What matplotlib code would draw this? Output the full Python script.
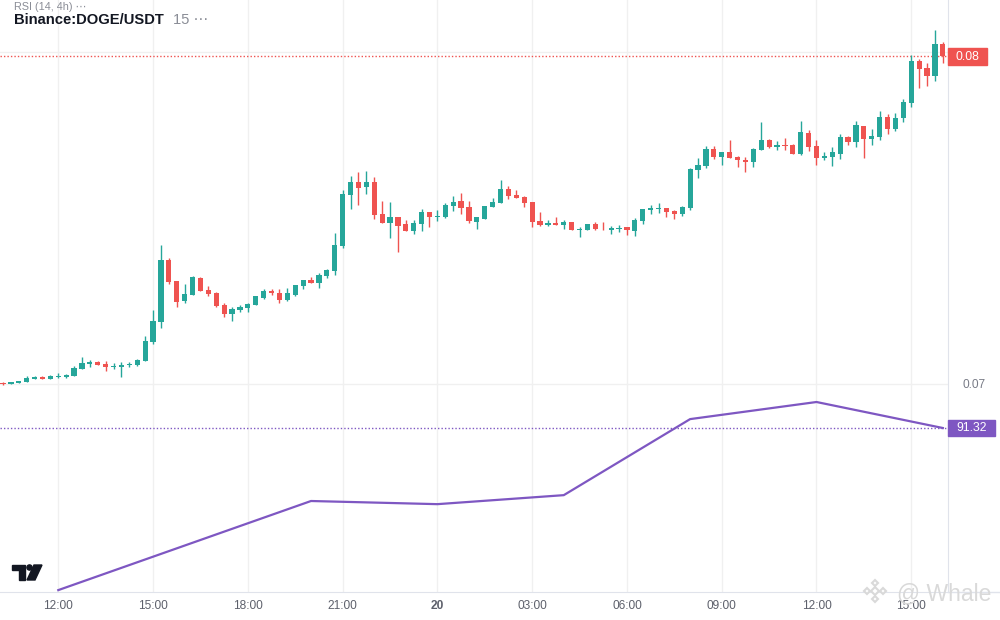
import numpy as np
import matplotlib.pyplot as plt
from matplotlib.patches import Rectangle, Polygon, Circle
from matplotlib.lines import Line2D
from matplotlib.transforms import Affine2D

plt.rcParams['font.family'] = ['Liberation Sans', 'DejaVu Sans']

# 15 min candles, 19th 10:15 -> 20th 16:00
opens = [0.07004, 0.07001, 0.07003, 0.07007, 0.07016, 0.07022, 0.07016, 0.07022, 0.07022, 0.07025,
         0.07046, 0.07060, 0.07066, 0.07060, 0.07052, 0.07052, 0.07058, 0.07057, 0.07070, 0.07128,
         0.07188, 0.07374, 0.07311, 0.07251, 0.07269, 0.07320, 0.07283, 0.07274, 0.07238, 0.07212,
         0.07224, 0.07230, 0.07239, 0.07260, 0.07280, 0.07274, 0.07254, 0.07269, 0.07296, 0.07314,
         0.07305, 0.07327, 0.07342, 0.07416, 0.07571, 0.07609, 0.07595, 0.07609, 0.07513, 0.07486,
         0.07504, 0.07482, 0.07462, 0.07483, 0.07519, 0.07504, 0.07504, 0.07537, 0.07552, 0.07534,
         0.07489, 0.07498, 0.07535, 0.07547, 0.07588, 0.07570, 0.07564, 0.07549, 0.07491, 0.07480,
         0.07486, 0.07480, 0.07489, 0.07465, 0.07465, 0.07483, 0.07468, 0.07465, 0.07468, 0.07474,
         0.07462, 0.07492, 0.07525, 0.07529, 0.07531, 0.07522, 0.07513, 0.07531, 0.07645, 0.07657,
         0.07709, 0.07684, 0.07699, 0.07684, 0.07675, 0.07669, 0.07705, 0.07736, 0.07715, 0.07721,
         0.07721, 0.07694, 0.07757, 0.07718, 0.07681, 0.07684, 0.07694, 0.07745, 0.07730, 0.07778,
         0.07739, 0.07745, 0.07805, 0.07769, 0.07802, 0.07848, 0.07974, 0.07953, 0.07929, 0.08025]
highs = [0.07007, 0.07007, 0.07010, 0.07025, 0.07025, 0.07025, 0.07028, 0.07033, 0.07031, 0.07054,
         0.07082, 0.07072, 0.07069, 0.07069, 0.07064, 0.07066, 0.07066, 0.07075, 0.07145, 0.07223,
         0.07419, 0.07380, 0.07311, 0.07302, 0.07326, 0.07323, 0.07295, 0.07278, 0.07244, 0.07232,
         0.07238, 0.07244, 0.07265, 0.07286, 0.07286, 0.07286, 0.07289, 0.07298, 0.07314, 0.07323,
         0.07335, 0.07347, 0.07455, 0.07585, 0.07627, 0.07639, 0.07642, 0.07624, 0.07552, 0.07549,
         0.07504, 0.07494, 0.07494, 0.07528, 0.07519, 0.07525, 0.07546, 0.07567, 0.07576, 0.07552,
         0.07504, 0.07537, 0.07562, 0.07615, 0.07597, 0.07585, 0.07567, 0.07549, 0.07519, 0.07494,
         0.07504, 0.07494, 0.07489, 0.07474, 0.07483, 0.07489, 0.07489, 0.07477, 0.07480, 0.07474,
         0.07500, 0.07528, 0.07540, 0.07546, 0.07531, 0.07525, 0.07537, 0.07651, 0.07681, 0.07718,
         0.07718, 0.07699, 0.07736, 0.07687, 0.07684, 0.07712, 0.07790, 0.07739, 0.07733, 0.07742,
         0.07724, 0.07793, 0.07766, 0.07736, 0.07699, 0.07715, 0.07754, 0.07748, 0.07793, 0.07778,
         0.07769, 0.07823, 0.07814, 0.07817, 0.07859, 0.07992, 0.07980, 0.07968, 0.08067, 0.08031]
lows = [0.06997, 0.07001, 0.07003, 0.07006, 0.07016, 0.07015, 0.07016, 0.07019, 0.07019, 0.07024,
        0.07045, 0.07052, 0.07056, 0.07040, 0.07046, 0.07022, 0.07052, 0.07054, 0.07070, 0.07122,
        0.07170, 0.07302, 0.07233, 0.07245, 0.07269, 0.07280, 0.07266, 0.07233, 0.07203, 0.07191,
        0.07218, 0.07218, 0.07239, 0.07257, 0.07269, 0.07245, 0.07251, 0.07266, 0.07287, 0.07305,
        0.07290, 0.07320, 0.07330, 0.07411, 0.07529, 0.07541, 0.07574, 0.07498, 0.07486, 0.07441,
        0.07399, 0.07462, 0.07453, 0.07462, 0.07474, 0.07492, 0.07501, 0.07523, 0.07513, 0.07486,
        0.07468, 0.07498, 0.07535, 0.07547, 0.07559, 0.07562, 0.07535, 0.07474, 0.07477, 0.07477,
        0.07480, 0.07468, 0.07465, 0.07444, 0.07465, 0.07465, 0.07465, 0.07453, 0.07459, 0.07450,
        0.07447, 0.07483, 0.07513, 0.07516, 0.07504, 0.07497, 0.07507, 0.07525, 0.07621, 0.07651,
        0.07678, 0.07660, 0.07681, 0.07654, 0.07639, 0.07654, 0.07705, 0.07712, 0.07705, 0.07705,
        0.07694, 0.07690, 0.07702, 0.07660, 0.07675, 0.07657, 0.07678, 0.07721, 0.07715, 0.07681,
        0.07721, 0.07736, 0.07754, 0.07763, 0.07790, 0.07836, 0.07893, 0.07899, 0.07914, 0.07968]
closes = [0.07001, 0.07006, 0.07009, 0.07018, 0.07022, 0.07016, 0.07025, 0.07024, 0.07027, 0.07048,
          0.07063, 0.07065, 0.07057, 0.07051, 0.07055, 0.07057, 0.07061, 0.07071, 0.07130, 0.07190,
          0.07374, 0.07308, 0.07248, 0.07271, 0.07323, 0.07281, 0.07272, 0.07236, 0.07212, 0.07226,
          0.07232, 0.07241, 0.07265, 0.07280, 0.07275, 0.07254, 0.07274, 0.07298, 0.07314, 0.07305,
          0.07329, 0.07344, 0.07419, 0.07573, 0.07609, 0.07592, 0.07609, 0.07510, 0.07486, 0.07504,
          0.07477, 0.07462, 0.07485, 0.07519, 0.07504, 0.07507, 0.07540, 0.07549, 0.07532, 0.07491,
          0.07504, 0.07537, 0.07549, 0.07588, 0.07568, 0.07562, 0.07547, 0.07489, 0.07480, 0.07486,
          0.07480, 0.07489, 0.07465, 0.07467, 0.07483, 0.07468, 0.07466, 0.07470, 0.07470, 0.07465,
          0.07494, 0.07528, 0.07531, 0.07531, 0.07519, 0.07513, 0.07534, 0.07648, 0.07660, 0.07709,
          0.07684, 0.07699, 0.07681, 0.07675, 0.07669, 0.07709, 0.07736, 0.07715, 0.07721, 0.07718,
          0.07694, 0.07760, 0.07715, 0.07681, 0.07687, 0.07699, 0.07745, 0.07730, 0.07781, 0.07739,
          0.07748, 0.07805, 0.07769, 0.07802, 0.07850, 0.07974, 0.07951, 0.07929, 0.08025, 0.07989]

time_ticks = [7, 19, 31, 43, 55, 67, 79, 91, 103, 115]
time_labels = ['12:00', '15:00', '18:00', '21:00', '20', '03:00', '06:00', '09:00', '12:00', '15:00']
price_ticks = [0.07, 0.08]

# RSI(14) on 4h, points at 12:00, 20:00, 00:00, 04:00, 08:00, 12:00, 16:00
rsi_idx = [7, 39, 55, 71, 87, 103, 119]
rsi_vals = [55.3, 75.1, 74.4, 76.4, 93.3, 97.1, 91.32]

up = '#26a69a'
down = '#ef5350'
purple = '#7e57c2'
gridc = '#f0f0f0'
linec = '#e0e3eb'

fig = plt.figure(figsize=(10, 6.2), dpi=100)
pix = Affine2D().scale(1 / 1000, -1 / 620).translate(0, 1) + fig.transFigure

ax = fig.add_axes([0, 28 / 620, 0.948, 592 / 620])
ax2 = ax.twinx()

o = np.array(opens); h = np.array(highs); l = np.array(lows); c = np.array(closes)
idx = np.arange(len(o))
cols = np.where(c >= o, up, down)
ax.vlines(idx, l, h, colors=cols, linewidth=1, zorder=3)
ax.bar(idx, np.maximum(np.abs(c - o), 0.00002), bottom=np.minimum(o, c), width=0.66,
       color=cols, linewidth=0, zorder=3)

ax.set_xlim(-0.38, 119.65)
ax.set_ylim(0.063729, 0.081577)
ax.axhline(c[-1], color=down, lw=1, ls=(0, (1, 1.5)), zorder=2)

ax.set_xticks(time_ticks)
ax.set_xticklabels(time_labels)
ax.get_xticklabels()[4].set_fontweight('bold')
ax.yaxis.tick_right()
ax.set_yticks(price_ticks)
ax.set_yticklabels(['%.2f' % v for v in price_ticks])
ax.tick_params(axis='x', length=0, pad=6, labelsize=8.6, labelcolor='#5d606b')
ax.tick_params(axis='y', which='both', left=False, labelleft=False, right=False,
               labelright=True, pad=7.2, labelsize=8.6, labelcolor='#787b86')
ax.grid(True, color=gridc, lw=1, zorder=0)
ax.set_axisbelow(True)
for s in ['top', 'left']:
    ax.spines[s].set_visible(False)
for s in ['right', 'bottom']:
    ax.spines[s].set_color(linec)

ax2.set_ylim(54.88, 186.43)
ax2.plot(rsi_idx, rsi_vals, color=purple, lw=1.6, zorder=4)
ax2.axhline(rsi_vals[-1], color=purple, lw=1, ls=(0, (1, 1.5)))
ax2.set_yticks([])
for s in ax2.spines.values():
    s.set_visible(False)
ax2.set_xlim(-0.38, 119.65)

fig.add_artist(Line2D([948, 1000], [592, 592], color=linec, lw=1, transform=pix))

# price labels
fig.add_artist(Rectangle((948, 48), 39, 17, color=down, transform=pix))
fig.text(967.5, 56.5, '%.2f' % c[-1], transform=pix, color='white', fontsize=8.8,
         ha='center', va='center')
fig.add_artist(Rectangle((948, 420), 47, 16, color=purple, transform=pix))
fig.text(971.5, 428, '%.2f' % rsi_vals[-1], transform=pix, color='white', fontsize=8.8,
         ha='center', va='center')

# header
fig.text(14, 10.5, 'RSI (14, 4h) \u22ef', transform=pix, fontsize=7.8, color='#8a8d96', va='baseline')
fig.text(14, 23.5, 'Binance:DOGE/USDT', transform=pix, fontsize=10.6, fontweight='bold',
         color='#131722', va='baseline')
fig.text(173, 23.5, '15 \u22ef', transform=pix, fontsize=10.6, color='#8a8d96', va='baseline')

# TradingView logo
fig.add_artist(Polygon([(12, 565), (25, 565), (25, 580), (19, 580), (19, 570), (12, 570)],
                       closed=True, color='#131722', transform=pix))
fig.add_artist(Circle((29.5, 567.5), 2.6, color='#131722', transform=pix))
fig.add_artist(Polygon([(34, 565), (42, 565), (35, 580), (27, 580)], closed=True,
                       color='#131722', transform=pix))

# watermark
wm = '#d9d9d9'
for dx, dy, r in [(0, 0, 4), (-8, 0, 3), (8, 0, 3), (0, -8, 3), (0, 8, 3)]:
    cx, cy = 875 + dx, 591 + dy
    fig.add_artist(Polygon([(cx, cy - r), (cx + r, cy), (cx, cy + r), (cx - r, cy)], closed=True,
                           facecolor='white', edgecolor=wm, lw=1.5, transform=pix))
fig.text(897, 594, '@ Whale', transform=pix, fontsize=16.5, color=wm, va='center')

fig.savefig('out.png', dpi=100)
